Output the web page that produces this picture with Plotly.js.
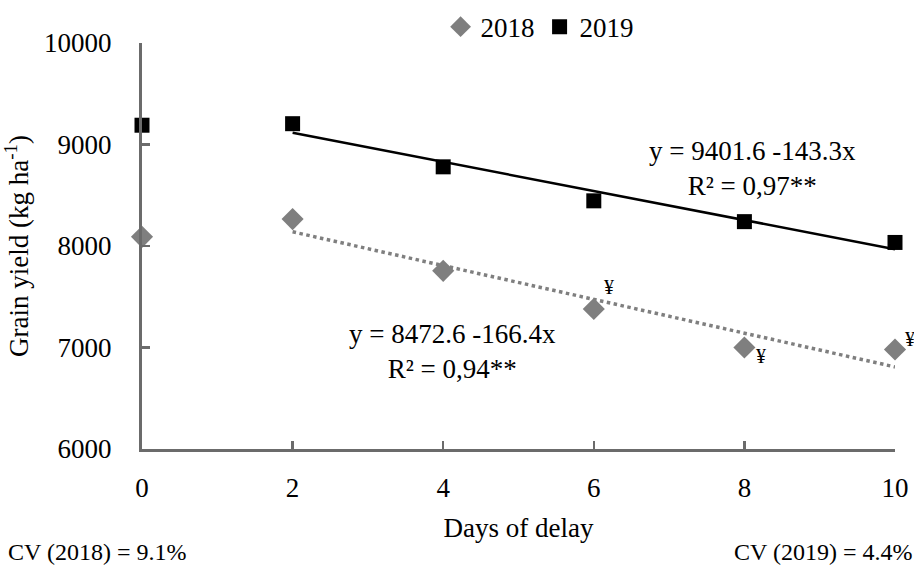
<!DOCTYPE html>
<html>
<head>
<meta charset="utf-8">
<script src="https://cdn.plot.ly/plotly-3.0.1.min.js"></script>
<style>html,body{margin:0;padding:0;background:#fff}#chart{width:914px;height:565px}</style>
</head>
<body>
<div id="chart"></div>
<script>
const days = [0, 2, 4, 6, 8, 10];
const yield2018 = [8090, 8265, 7755, 7380, 7000, 6980];
const yield2019 = [9190, 9205, 8780, 8445, 8240, 8035];
const seriesNames = ["2018", "2019"];
// regression equations shown on the chart (fitted for days 2-10)
const fit2018 = {intercept: 8472.6, slope: -166.4, r2: "0,94**"};
const fit2019 = {intercept: 9401.6, slope: -143.3, r2: "0,97**"};
const fitRange = [2, 10];
const yenDays = [6, 8, 10];
const xTicks = [0, 2, 4, 6, 8, 10];
const yTicks = [6000, 7000, 8000, 9000, 10000];

const FONT = 'Liberation Serif, Times New Roman, serif';
const AX = '#6b6b6b';
const G = '#7f7f7f';
const FS = 27;

function fitLine(f) { return fitRange.map(x => f.intercept + f.slope * x); }

const traces = [
  {x: fitRange, y: fitLine(fit2018), mode: 'lines', line: {color: G, width: 3.5, dash: 'dot'}, showlegend: false, hoverinfo: 'skip'},
  {x: fitRange, y: fitLine(fit2019), mode: 'lines', line: {color: '#000', width: 2.5}, showlegend: false, hoverinfo: 'skip'},
  {x: days, y: yield2018, name: seriesNames[0], mode: 'markers', marker: {symbol: 'diamond', size: 17, color: G}, cliponaxis: false},
  {x: days, y: yield2019, name: seriesNames[1], mode: 'markers', marker: {symbol: 'square', size: 15, color: '#000'}, cliponaxis: false}
];

const yenAnn = [
  {x: yenDays[0], y: yield2018[3], xshift: 15, yshift: 22},
  {x: yenDays[1], y: yield2018[4], xshift: 17, yshift: -8},
  {x: yenDays[2], y: yield2018[5], xshift: 15, yshift: 11}
].map(a => Object.assign({text: '¥', showarrow: false, xref: 'x', yref: 'y', font: {family: FONT, size: 20, color: '#000'}}, a));

const layout = {
  width: 914, height: 565,
  margin: {l: 142, r: 19, t: 43, b: 116, autoexpand: false},
  paper_bgcolor: '#fff', plot_bgcolor: '#fff',
  font: {family: FONT, size: FS, color: '#000'},
  showlegend: true,
  legend: {orientation: 'h', x: 0.528, xref: 'paper', xanchor: 'center', y: 0.952, yanchor: 'middle', yref: 'container',
           font: {family: FONT, size: FS, color: '#000'}, itemwidth: 30, traceorder: 'normal'},
  xaxis: {range: [0, 10], tickvals: xTicks, ticktext: xTicks.map(String), showgrid: false, zeroline: false,
          showline: true, linecolor: AX, linewidth: 3, ticks: 'inside', ticklen: 8, tickwidth: 2.5, tickcolor: AX,
          tickfont: {family: FONT, size: FS, color: '#000'}, ticklabelstandoff: 13,
          title: {text: 'Days of delay', font: {family: FONT, size: FS, color: '#000'}, standoff: 16}},
  yaxis: {range: [6000, 10000], tickvals: yTicks, ticktext: yTicks.map(String), showgrid: false, zeroline: false,
          showline: true, linecolor: AX, linewidth: 3, ticks: 'inside', ticklen: 8, tickwidth: 2.5, tickcolor: AX,
          tickfont: {family: FONT, size: FS, color: '#000'}, ticklabelstandoff: 22,
          title: {text: 'Grain yield (kg ha<sup>-1</sup>)', font: {family: FONT, size: FS, color: '#000'}, standoff: 14}},
  annotations: [
    {text: 'y = 9401.6 -143.3x<br>R² = ' + fit2019.r2, xref: 'paper', yref: 'paper', x: 0.811, xanchor: 'center', y: 0.692, yanchor: 'middle', showarrow: false,
     align: 'center', font: {family: FONT, size: FS, color: '#000'}},
    {text: 'y = 8472.6 -166.4x<br>R² = ' + fit2018.r2, xref: 'paper', yref: 'paper', x: 0.412, xanchor: 'center', y: 0.239, yanchor: 'middle', showarrow: false,
     align: 'center', font: {family: FONT, size: FS, color: '#000'}},
    {text: 'CV (2018) = 9.1%', xref: 'paper', yref: 'paper', x: -0.18, xanchor: 'left', y: -0.254, yanchor: 'middle', showarrow: false,
     font: {family: FONT, size: 24, color: '#000'}},
    {text: 'CV (2019) = 4.4%', xref: 'paper', yref: 'paper', x: 1.025, xanchor: 'right', y: -0.254, yanchor: 'middle', showarrow: false,
     font: {family: FONT, size: 24, color: '#000'}}
  ].concat(yenAnn)
};

Plotly.newPlot('chart', traces, layout, {displayModeBar: false, staticPlot: true});
</script>
</body>
</html>
